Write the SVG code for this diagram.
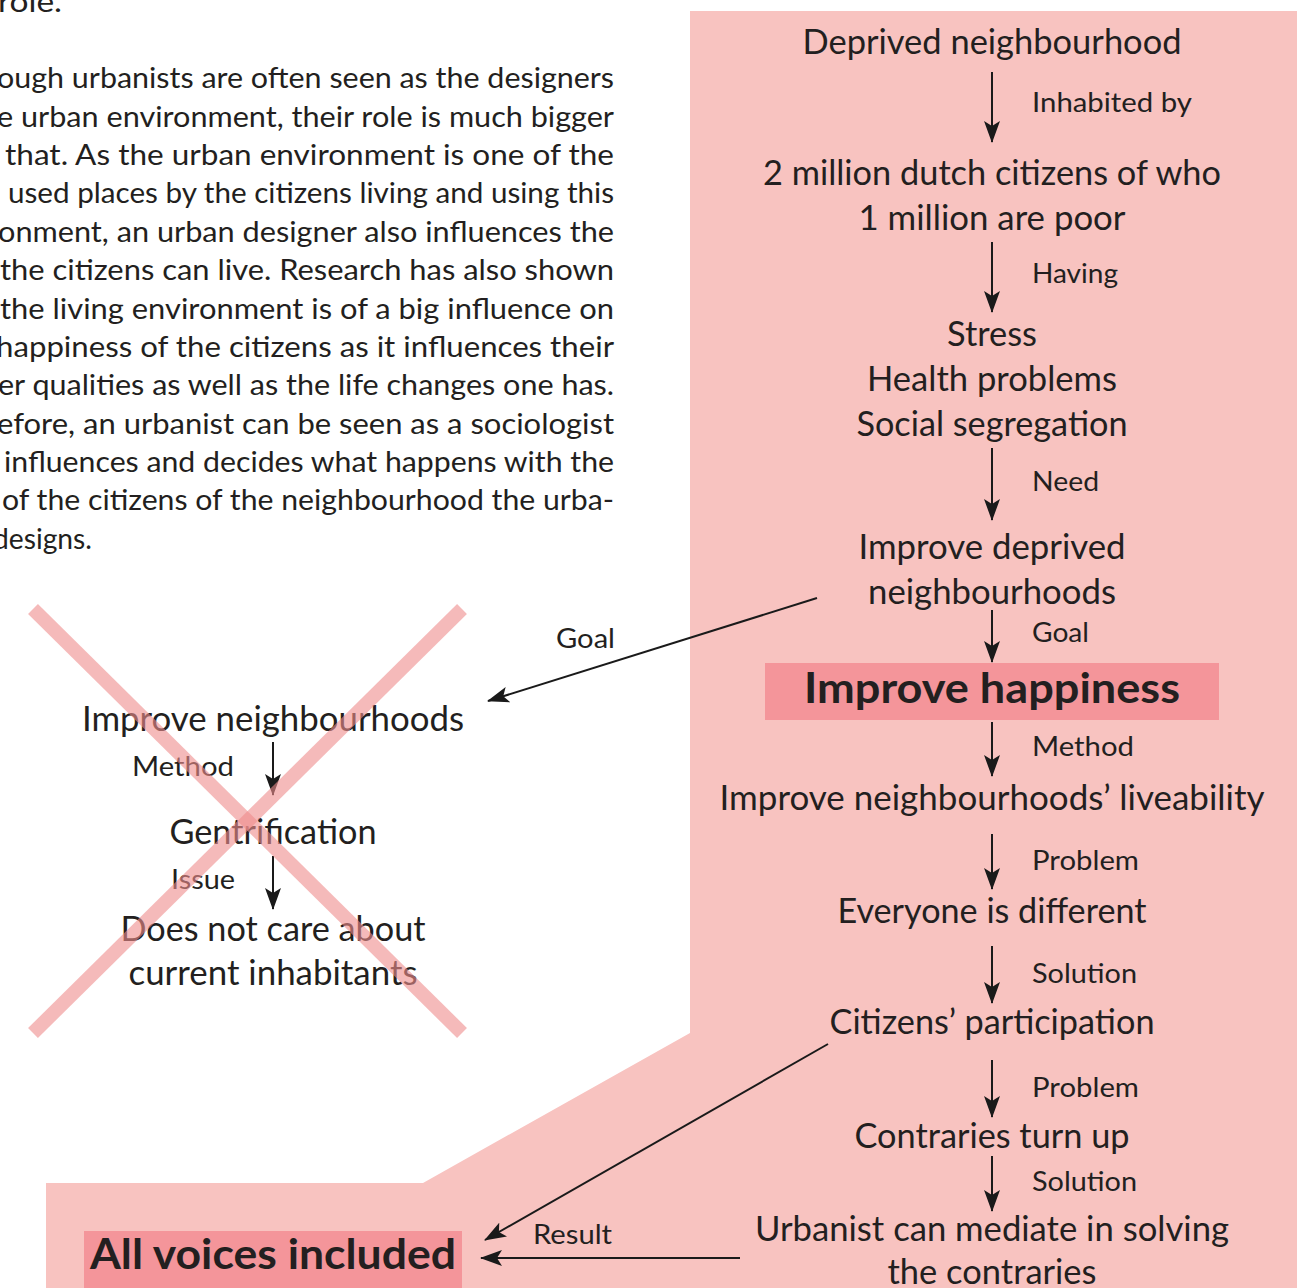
<svg xmlns="http://www.w3.org/2000/svg" width="1300" height="1288" viewBox="0 0 1300 1288">
<defs>
<marker id="ah" viewBox="0 0 22 16" refX="21" refY="8" markerWidth="22" markerHeight="16" orient="auto" markerUnits="userSpaceOnUse">
<path d="M0,0 L22,8 L0,16 L5,8 z" fill="#1a1a1a"/>
</marker>
<style>
text{font-family:Lato,"Open Sans","Liberation Sans",sans-serif;fill:#231f20;}
.body{font-size:28.5px;}
.node{font-size:34px;text-anchor:middle;}
.lab{font-size:27px;}
.big{font-size:42px;font-weight:bold;text-anchor:middle;}
.conn{stroke:#1a1a1a;stroke-width:2;fill:none;}
.cross{stroke:#f08d8d;stroke-width:14;opacity:0.6;}
</style>
</defs>
<rect width="1300" height="1288" fill="#ffffff"/>
<polygon points="690,11 1297,11 1297,1288 46,1288 46,1183 423,1183 690,1033" fill="#f8c3c0"/>

<g id="paragraph" class="body">
<text x="-2" y="12" textLength="64" lengthAdjust="spacingAndGlyphs">role.</text>
<text x="-3" y="88" textLength="617" lengthAdjust="spacingAndGlyphs">ough urbanists are often seen as the designers</text>
<text x="-3" y="127" textLength="617" lengthAdjust="spacingAndGlyphs">e urban environment, their role is much bigger</text>
<text x="5" y="165" textLength="609" lengthAdjust="spacingAndGlyphs">that. As the urban environment is one of the</text>
<text x="8" y="203" textLength="606" lengthAdjust="spacingAndGlyphs">used places by the citizens living and using this</text>
<text x="-2" y="242" textLength="616" lengthAdjust="spacingAndGlyphs">onment, an urban designer also influences the</text>
<text x="0" y="280" textLength="614" lengthAdjust="spacingAndGlyphs">the citizens can live. Research has also shown</text>
<text x="0" y="319" textLength="614" lengthAdjust="spacingAndGlyphs">the living environment is of a big influence on</text>
<text x="-4" y="357" textLength="618" lengthAdjust="spacingAndGlyphs">happiness of the citizens as it influences their</text>
<text x="-2" y="395" textLength="616" lengthAdjust="spacingAndGlyphs">er qualities as well as the life changes one has.</text>
<text x="-3" y="434" textLength="617" lengthAdjust="spacingAndGlyphs">efore, an urbanist can be seen as a sociologist</text>
<text x="4" y="472" textLength="610" lengthAdjust="spacingAndGlyphs">influences and decides what happens with the</text>
<text x="2" y="510" textLength="612" lengthAdjust="spacingAndGlyphs">of the citizens of the neighbourhood the urba-</text>
<text x="-7" y="549" textLength="99" lengthAdjust="spacingAndGlyphs">designs.</text>
</g>

<g id="n-deprived"><text class="node" x="992" y="54" textLength="379" lengthAdjust="spacingAndGlyphs">Deprived neighbourhood</text></g>
<g id="n-citizens"><text class="node" x="992" y="185" textLength="458" lengthAdjust="spacingAndGlyphs">2 million dutch citizens of who</text><text class="node" x="992" y="230" textLength="267" lengthAdjust="spacingAndGlyphs">1 million are poor</text></g>
<g id="n-stress"><text class="node" x="992" y="346" textLength="90" lengthAdjust="spacingAndGlyphs">Stress</text><text class="node" x="992" y="391" textLength="250" lengthAdjust="spacingAndGlyphs">Health problems</text><text class="node" x="992" y="436" textLength="271" lengthAdjust="spacingAndGlyphs">Social segregation</text></g>
<g id="n-improve-deprived"><text class="node" x="992" y="559" textLength="267" lengthAdjust="spacingAndGlyphs">Improve deprived</text><text class="node" x="992" y="604" textLength="248" lengthAdjust="spacingAndGlyphs">neighbourhoods</text></g>
<g id="n-happiness"><rect x="765" y="663" width="454" height="57" fill="#f4959a"/><text class="big" x="992" y="703" textLength="376" lengthAdjust="spacingAndGlyphs">Improve happiness</text></g>
<g id="n-liveability"><text class="node" x="992" y="810" textLength="545" lengthAdjust="spacingAndGlyphs">Improve neighbourhoods’ liveability</text></g>
<g id="n-different"><text class="node" x="992" y="923" textLength="309" lengthAdjust="spacingAndGlyphs">Everyone is different</text></g>
<g id="n-participation"><text class="node" x="992" y="1034" textLength="325" lengthAdjust="spacingAndGlyphs">Citizens’ participation</text></g>
<g id="n-contraries"><text class="node" x="992" y="1148" textLength="275" lengthAdjust="spacingAndGlyphs">Contraries turn up</text></g>
<g id="n-mediate"><text class="node" x="992" y="1241" textLength="474" lengthAdjust="spacingAndGlyphs">Urbanist can mediate in solving</text><text class="node" x="992" y="1284" textLength="209" lengthAdjust="spacingAndGlyphs">the contraries</text></g>

<g id="n-improve-neigh"><text class="node" x="273" y="731" textLength="382" lengthAdjust="spacingAndGlyphs">Improve neighbourhoods</text></g>
<g id="n-gentrification"><text class="node" x="273" y="844" textLength="207" lengthAdjust="spacingAndGlyphs">Gentrification</text></g>
<g id="n-doesnot"><text class="node" x="273" y="941" textLength="305" lengthAdjust="spacingAndGlyphs">Does not care about</text><text class="node" x="273" y="985" textLength="289" lengthAdjust="spacingAndGlyphs">current inhabitants</text></g>
<g id="n-allvoices"><rect x="84" y="1231" width="378" height="57" fill="#f4959a"/><text class="big" x="273" y="1269" textLength="366" lengthAdjust="spacingAndGlyphs">All voices included</text></g>

<g id="connectors">
<line class="conn" x1="992" y1="72" x2="992" y2="142" marker-end="url(#ah)"/>
<line class="conn" x1="992" y1="242" x2="992" y2="312" marker-end="url(#ah)"/>
<line class="conn" x1="992" y1="448" x2="992" y2="520" marker-end="url(#ah)"/>
<line class="conn" x1="992" y1="610" x2="992" y2="662" marker-end="url(#ah)"/>
<line class="conn" x1="992" y1="722" x2="992" y2="776" marker-end="url(#ah)"/>
<line class="conn" x1="992" y1="834" x2="992" y2="889" marker-end="url(#ah)"/>
<line class="conn" x1="992" y1="946" x2="992" y2="1003" marker-end="url(#ah)"/>
<line class="conn" x1="992" y1="1060" x2="992" y2="1117" marker-end="url(#ah)"/>
<line class="conn" x1="992" y1="1156" x2="992" y2="1211" marker-end="url(#ah)"/>
<line class="conn" x1="273" y1="742" x2="273" y2="795" marker-end="url(#ah)"/>
<line class="conn" x1="273" y1="856" x2="273" y2="909" marker-end="url(#ah)"/>
<line class="conn" x1="817" y1="598" x2="488" y2="701" marker-end="url(#ah)"/>
<line class="conn" x1="828" y1="1044" x2="485" y2="1240" marker-end="url(#ah)"/>
<line class="conn" x1="740" y1="1258" x2="481" y2="1258" marker-end="url(#ah)"/>
<text class="lab" x="1032" y="112" textLength="160" lengthAdjust="spacingAndGlyphs">Inhabited by</text>
<text class="lab" x="1032" y="283" textLength="86" lengthAdjust="spacingAndGlyphs">Having</text>
<text class="lab" x="1032" y="491" textLength="67" lengthAdjust="spacingAndGlyphs">Need</text>
<text class="lab" x="1032" y="642" textLength="57" lengthAdjust="spacingAndGlyphs">Goal</text>
<text class="lab" x="1032" y="756" textLength="102" lengthAdjust="spacingAndGlyphs">Method</text>
<text class="lab" x="1032" y="870" textLength="107" lengthAdjust="spacingAndGlyphs">Problem</text>
<text class="lab" x="1032" y="983" textLength="105" lengthAdjust="spacingAndGlyphs">Solution</text>
<text class="lab" x="1032" y="1097" textLength="107" lengthAdjust="spacingAndGlyphs">Problem</text>
<text class="lab" x="1032" y="1191" textLength="105" lengthAdjust="spacingAndGlyphs">Solution</text>
<text class="lab" x="556" y="648" textLength="59" lengthAdjust="spacingAndGlyphs">Goal</text>
<text class="lab" x="132" y="776" textLength="102" lengthAdjust="spacingAndGlyphs">Method</text>
<text class="lab" x="171" y="889" textLength="64" lengthAdjust="spacingAndGlyphs">Issue</text>
<text class="lab" x="533" y="1244" textLength="79" lengthAdjust="spacingAndGlyphs">Result</text>
</g>

<g id="cross">
<line class="cross" x1="33" y1="609" x2="462" y2="1033"/>
<line class="cross" x1="462" y1="609" x2="33" y2="1033"/>
</g>
</svg>
